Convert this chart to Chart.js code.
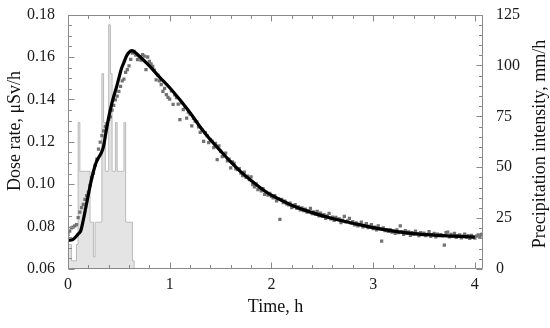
<!DOCTYPE html>
<html>
<head>
<meta charset="utf-8">
<script src="https://cdn.jsdelivr.net/npm/chart.js@4.4.1/dist/chart.umd.min.js"></script>
<style>
    html, body { margin: 0; padding: 0; background: #fff; }
    #Wrap { width: 550px; height: 328px; }
</style>
</head>
<body>
<div id="Wrap"><canvas id="DoseChart" width="550" height="328"></canvas></div>
<script>
// tick labels
const TimeTicks = [0, 1, 2, 3, 4];
const DoseTicks = [0.06, 0.08, 0.10, 0.12, 0.14, 0.16, 0.18];
const RainTicks = [0, 25, 50, 75, 100, 125];

// measured dose rate, one reading per minute from t = 0 (uSv/h)
const SampleMinutes = 1;
const DoseRate = [
    0.0763, 0.0779, 0.0794, 0.0798, 0.0803, 0.0809, 0.0842, 0.0868, 0.0889, 0.0905,
    0.0928, 0.0946, 0.0962, 0.0994, 0.1031, 0.1052, 0.1089, 0.1118, 0.1165, 0.1198,
    0.1229, 0.1251, 0.1272, 0.1285, 0.1306, 0.1318, 0.1349, 0.1372, 0.1398, 0.1416,
    0.1438, 0.1462, 0.1487, 0.1496, 0.1528, 0.1541, 0.1558, 0.1589, 0.1618, 0.1626,
    0.1609, 0.1588, 0.1602, 0.1585, 0.1611, 0.1604, 0.1541, 0.1600, 0.1579, 0.1568,
    0.1556, 0.1538, 0.1492, 0.1515, 0.1487, 0.1470, 0.1438, 0.1452, 0.1422, 0.1409,
    0.1401, 0.1440, 0.1376, 0.1421, 0.1408, 0.1378, 0.1305, 0.1384, 0.1352, 0.1363,
    0.1312, 0.1340, 0.1331, 0.1275, 0.1311, 0.1298, 0.1294, 0.1270, 0.1245, 0.1255,
    0.1202, 0.1243, 0.1229, 0.1196, 0.1210, 0.1203, 0.1172, 0.1192, 0.1116, 0.1181,
    0.1155, 0.1130, 0.1138, 0.1146, 0.1110, 0.1118, 0.1077, 0.1105, 0.1098, 0.1072,
    0.1069, 0.1074, 0.1052, 0.1041, 0.1057, 0.1032, 0.1038, 0.1021, 0.1034, 0.0998,
    0.0987, 0.1001, 0.0975, 0.0982, 0.0968, 0.0979, 0.0952, 0.0961, 0.0949, 0.0957,
    0.0942, 0.0935, 0.0946, 0.0921, 0.0932, 0.0834, 0.0928, 0.0913, 0.0920, 0.0907,
    0.0902, 0.0911, 0.0889, 0.0897, 0.0904, 0.0886, 0.0893, 0.0879, 0.0888, 0.0875,
    0.0882, 0.0868, 0.0874, 0.0886, 0.0861, 0.0869, 0.0858, 0.0872, 0.0851, 0.0863,
    0.0848, 0.0856, 0.0839, 0.0851, 0.0862, 0.0837, 0.0845, 0.0829, 0.0843, 0.0834,
    0.0836, 0.0819, 0.0831, 0.0848, 0.0822, 0.0827, 0.0839, 0.0816, 0.0824, 0.0808,
    0.0818, 0.0803, 0.0811, 0.0821, 0.0799, 0.0806, 0.0814, 0.0795, 0.0802, 0.0809,
    0.0791, 0.0798, 0.0784, 0.0803, 0.0789, 0.0732, 0.0794, 0.0781, 0.0786, 0.0777,
    0.0786, 0.0774, 0.0779, 0.0768, 0.0784, 0.0771, 0.0803, 0.0776, 0.0763, 0.0781,
    0.0768, 0.0775, 0.0759, 0.0772, 0.0763, 0.0779, 0.0766, 0.0758, 0.0771, 0.0762,
    0.0769, 0.0757, 0.0763, 0.0776, 0.0754, 0.0761, 0.0768, 0.0752, 0.0765, 0.0758,
    0.0762, 0.0756, 0.0713, 0.0771, 0.0774, 0.0751, 0.0763, 0.0755, 0.0768, 0.0749,
    0.0758, 0.0761, 0.0747, 0.0755, 0.0764, 0.0750, 0.0757, 0.0744, 0.0759, 0.0752,
    0.0746, 0.0755, 0.0761, 0.0749, 0.0763, 0.0768
];

// model curve (h, uSv/h)
const ModelTime = [0, 0.05, 0.1, 0.125, 0.15, 0.175, 0.2, 0.225, 0.25, 0.275, 0.3, 0.325, 0.35, 0.375, 0.4,
    0.425, 0.45, 0.475, 0.5, 0.525, 0.55, 0.575, 0.6, 0.625, 0.65, 0.7, 0.8, 0.9, 1.0, 1.1, 1.2, 1.3, 1.4,
    1.5, 1.6, 1.7, 1.8, 1.9, 2.0, 2.2, 2.4, 2.6, 2.8, 3.0, 3.2, 3.4, 3.6, 3.8, 4.0];
const ModelDose = [0.0735, 0.0740, 0.0765, 0.0780, 0.0830, 0.0890, 0.0950, 0.1010, 0.1060, 0.1100, 0.1125,
    0.1145, 0.1180, 0.1250, 0.1315, 0.1370, 0.1415, 0.1455, 0.1500, 0.1545, 0.1575, 0.1605, 0.1622, 0.1630,
    0.1625, 0.1605, 0.1558, 0.1505, 0.1455, 0.1398, 0.1337, 0.1270, 0.1210, 0.1157, 0.1105, 0.1058, 0.1017,
    0.0980, 0.0948, 0.0901, 0.0866, 0.0838, 0.0816, 0.0795, 0.0779, 0.0767, 0.0760, 0.0755, 0.0750];

// precipitation intensity, one-minute bins from t = 0 (mm/h)
const RainBinMinutes = 1;
const RainIntensity = [12, 12, 4, 4, 4, 12, 72, 48, 48, 48, 48, 48, 48, 23, 23, 6, 23, 23, 23, 23,
    96, 72, 48, 48, 120, 96, 48, 48, 72, 48, 48, 48, 48, 72, 23, 23, 23, 23, 4, 0];

const FontFamily = "'Liberation Serif', 'Times New Roman', serif";

function DrawRotatedTitle(ctx, text, x, y) {
    ctx.save();
    ctx.fillStyle = "#111";
    ctx.font = "18px " + FontFamily;
    ctx.textAlign = "center";
    ctx.textBaseline = "middle";
    ctx.translate(x, y);
    ctx.rotate(-Math.PI / 2);
    ctx.fillText(text, 0, 0);
    ctx.restore();
}

// inward ticks on all four sides, frame and the two vertical axis titles
const FrameTicks = {
    id: "frameTicks",
    afterDatasetsDraw(chart) {
        const ctx = chart.ctx;
        const Area = chart.chartArea;
        const XScale = chart.scales.x, YScale = chart.scales.y, RainScale = chart.scales.y2;
        const L = Math.round(Area.left) + 0.5, R = Math.round(Area.right) - 0.5;
        const T = Math.round(Area.top) + 0.5, B = Math.round(Area.bottom) - 0.5;
        ctx.save();
        ctx.strokeStyle = "#8a8a8a";
        ctx.lineWidth = 1;
        ctx.beginPath();
        ctx.rect(L, T, R - L, B - T);
        for (let i = 0; i * 0.2 <= XScale.max + 1e-9; i++) {
            const px = Math.round(XScale.getPixelForValue(i * 0.2)) + 0.5;
            const len = i % 5 === 0 ? 6 : 3.5;
            ctx.moveTo(px, B); ctx.lineTo(px, B - len);
            ctx.moveTo(px, T); ctx.lineTo(px, T + len);
        }
        for (let i = 0; i <= 24; i++) {
            const py = Math.round(YScale.getPixelForValue(0.06 + i * 0.005)) + 0.5;
            const len = i % 4 === 0 ? 6 : 3.5;
            ctx.moveTo(L, py); ctx.lineTo(L + len, py);
        }
        for (let i = 0; i <= 25; i++) {
            const py = Math.round(RainScale.getPixelForValue(i * 5)) + 0.5;
            const len = i % 5 === 0 ? 6 : 3.5;
            ctx.moveTo(R, py); ctx.lineTo(R - len, py);
        }
        ctx.stroke();
        ctx.restore();

        DrawRotatedTitle(ctx, "Dose rate, \u03BCSv/h", 15, 131);
        DrawRotatedTitle(ctx, "Precipitation intensity, mm/h", 540, 144);
    }
};

function RenderChart() {
    const DosePoints = DoseRate.map(function (v, i) {
        return { x: i * SampleMinutes / 60, y: v };
    });
    const ModelPoints = ModelTime.map(function (t, i) {
        return { x: t, y: ModelDose[i] };
    });
    const RainPoints = RainIntensity.map(function (v, i) {
        return { x: i * RainBinMinutes / 60, y: v };
    });

    const TickFont = { family: FontFamily, size: 16 };
    const TitleFont = { family: FontFamily, size: 18 };

    new Chart(document.getElementById("DoseChart").getContext("2d"), {
        type: "scatter",
        data: {
            datasets: [{
                type: "line",
                label: "Precipitation intensity",
                data: RainPoints,
                yAxisID: "y2",
                stepped: true,
                fill: "origin",
                backgroundColor: "#e4e4e4",
                borderColor: "#bababa",
                borderWidth: 1,
                pointRadius: 0,
                order: 3
            }, {
                label: "Measured dose rate",
                data: DosePoints,
                yAxisID: "y",
                pointStyle: "rect",
                pointRadius: 2.3,
                pointBorderWidth: 0,
                backgroundColor: "#727272",
                borderColor: "#727272",
                order: 2
            }, {
                type: "line",
                label: "Model",
                data: ModelPoints,
                yAxisID: "y",
                borderColor: "#000",
                borderWidth: 3.2,
                pointRadius: 0,
                cubicInterpolationMode: "monotone",
                fill: false,
                order: 1
            }]
        },
        options: {
            responsive: false,
            animation: false,
            devicePixelRatio: 1,
            layout: { padding: { top: 13, left: 0, right: 0, bottom: 0 } },
            plugins: { legend: { display: false }, tooltip: { enabled: false } },
            scales: {
                x: {
                    type: "linear",
                    position: "bottom",
                    min: 0,
                    max: 4.08,
                    grid: { display: false },
                    border: { display: false },
                    afterBuildTicks: function (s) { s.ticks = TimeTicks.map(function (v) { return { value: v }; }); },
                    afterFit: function (s) { s.height = 59; },
                    ticks: { font: TickFont, color: "#1a1a1a", padding: -2, maxRotation: 0, autoSkip: false,
                        callback: function (v) { return String(v); } },
                    title: { display: true, text: "Time, h", font: TitleFont, color: "#111", padding: { top: 0, bottom: 10 } }
                },
                y: {
                    type: "linear",
                    position: "left",
                    min: 0.06,
                    max: 0.18,
                    grid: { display: false },
                    border: { display: false },
                    afterBuildTicks: function (s) { s.ticks = DoseTicks.map(function (v) { return { value: v }; }); },
                    afterFit: function (s) { s.width = 68; },
                    ticks: { font: TickFont, color: "#1a1a1a", padding: 5,
                        callback: function (v) { return v.toFixed(2); } }
                },
                y2: {
                    type: "linear",
                    position: "right",
                    min: 0,
                    max: 125,
                    grid: { display: false },
                    border: { display: false },
                    afterBuildTicks: function (s) { s.ticks = RainTicks.map(function (v) { return { value: v }; }); },
                    afterFit: function (s) { s.width = 67; },
                    ticks: { font: TickFont, color: "#1a1a1a", padding: 5,
                        callback: function (v) { return String(v); } }
                }
            }
        },
        plugins: [FrameTicks]
    });
}

RenderChart();
</script>
</body>
</html>
